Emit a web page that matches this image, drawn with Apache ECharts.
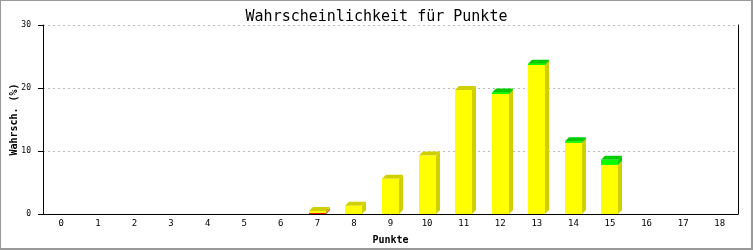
<!DOCTYPE html>
<html>
<head>
<meta charset="utf-8">
<script src="https://cdn.jsdelivr.net/npm/echarts@6/dist/echarts.min.js"></script>
<style>
html,body{margin:0;padding:0;background:#fff;}
#wrap{width:753px;height:250px;box-sizing:border-box;border-top:1px solid #999;border-left:1px solid #999;border-right:2px solid #999;border-bottom:2px solid #999;position:relative;overflow:hidden;}
#chart{position:absolute;left:-1px;top:-1px;width:753px;height:250px;}
</style>
</head>
<body>
<div id="wrap"><div id="chart"></div></div>
<script>
var categories = ['0','1','2','3','4','5','6','7','8','9','10','11','12','13','14','15','16','17','18'];
var redValues    = [0,0,0,0,0,0,0,0.15,0,0,0,0,0,0,0,0,0,0,0];
var yellowValues = [0,0,0,0,0,0,0,0.33,1.3,5.6,9.3,19.7,19.05,23.65,11.3,7.8,0,0,0];
var greenValues  = [0,0,0,0,0,0,0,0,0,0,0,0,0.25,0.2,0.25,0.8,0,0,0];
var yTicks = [0,10,20,30];

var segColors = [
  {front:'#ff0000', side:'#cc0000', top:'#cc0000'},
  {front:'#ffff00', side:'#d0d000', top:'#d0d000'},
  {front:'#00ff00', side:'#00cc00', top:'#00cc00'}
];

var data = categories.map(function(c,i){ return [i, redValues[i], yellowValues[i], greenValues[i]]; });

var chart = echarts.init(document.getElementById('chart'), null, {renderer:'canvas'});
var mono = 'DejaVu Sans Mono';
chart.setOption({
  animation:false,
  backgroundColor:'#fff',
  title:{
    text:'Wahrscheinlichkeit für Punkte',
    left:'center', top:5,
    textStyle:{fontFamily:mono, fontSize:15, fontWeight:'normal', color:'#000'}
  },
  grid:{left:43, right:15, top:25, bottom:36, outerBoundsMode:'none', containLabel:false},
  xAxis:{
    type:'category', data:categories,
    name:'Punkte', nameLocation:'middle', nameGap:21, nameMoveOverlap:false,
    nameTextStyle:{fontFamily:mono, fontSize:10, fontWeight:'bold', color:'#000'},
    axisLine:{lineStyle:{color:'#000', width:1}},
    axisTick:{show:false},
    axisLabel:{fontFamily:mono, fontSize:9, color:'#000', margin:5}
  },
  yAxis:[{
    type:'value', min:yTicks[0], max:yTicks[yTicks.length-1], interval:10,
    name:'Wahrsch. (%)', nameLocation:'middle', nameGap:24, nameRotate:90, nameMoveOverlap:false,
    nameTextStyle:{fontFamily:mono, fontSize:10, fontWeight:'bold', color:'#000'},
    axisLine:{show:true, lineStyle:{color:'#000', width:1}},
    axisTick:{show:true, length:5, lineStyle:{color:'#000'}},
    axisLabel:{fontFamily:mono, fontSize:8, color:'#000', margin:12},
    splitLine:{show:true, lineStyle:{color:'#bbb', type:[2,3], width:1}}
  },{
    type:'value', min:0, max:30, interval:10, position:'right',
    axisLine:{show:true, lineStyle:{color:'#000', width:1}},
    axisTick:{show:false}, axisLabel:{show:false}, splitLine:{show:false}
  }],
  series:[{
    type:'custom',
    data:data,
    encode:{x:0, y:[1,2,3]},
    renderItem:function(params, api){
      var idx = api.value(0);
      var vals = [api.value(1), api.value(2), api.value(3)];
      var bw = 17, d = 4;
      var base = 0;
      var children = [];
      for (var s=0; s<3; s++){
        var v = vals[s];
        if (!(v>0)) continue;
        var p0 = api.coord([idx, base]);
        var p1 = api.coord([idx, base+v]);
        var x0 = Math.round(p0[0]-bw/2);
        var yb = p0[1], yt = p1[1];
        var c = segColors[s];
        children.push({type:'polygon', shape:{points:[[x0+bw,yt],[x0+bw+d,yt-d],[x0+bw+d,yb-d],[x0+bw,yb]]}, style:{fill:c.side}});
        children.push({type:'polygon', shape:{points:[[x0,yt],[x0+d,yt-d],[x0+bw+d,yt-d],[x0+bw,yt]]}, style:{fill:c.top}});
        children.push({type:'rect', shape:{x:x0, y:yt, width:bw, height:yb-yt}, style:{fill:c.front}});
        base += v;
      }
      return {type:'group', children:children};
    }
  }]
});
</script>
</body>
</html>
